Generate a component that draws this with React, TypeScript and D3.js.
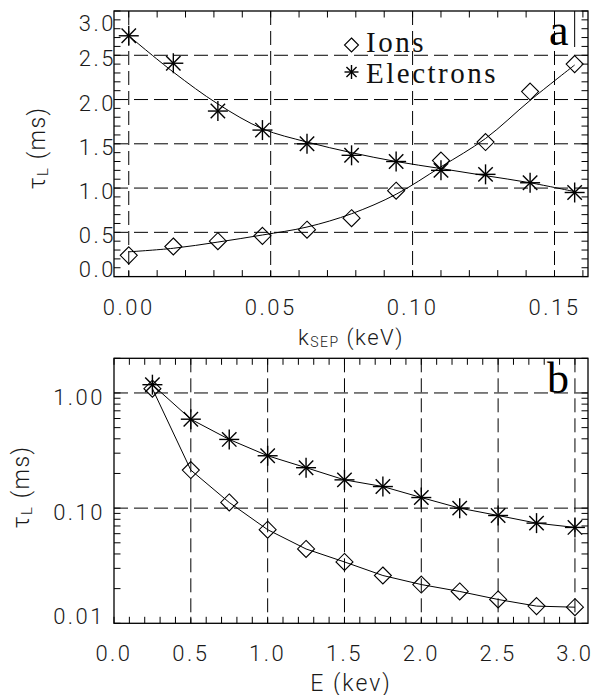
import React from "react";
import * as d3 from "d3";

// ---------- data ----------
const kSep = [0, 0.0157, 0.0314, 0.0471, 0.0628, 0.0785, 0.0942, 0.11, 0.1257, 0.1414, 0.1571];
const ionsA = [0.24, 0.34, 0.4, 0.46, 0.53, 0.66, 0.97, 1.31, 1.52, 2.09, 2.4];
const electronsA = [2.72, 2.41, 1.87, 1.655, 1.5, 1.37, 1.3, 1.2, 1.155, 1.06, 0.95];
const ionsFitA = [0.28, 0.32, 0.39, 0.47, 0.56, 0.71, 0.93, 1.24, 1.56, 1.99, 2.39];
const electronsFitA = [2.72, 2.31, 1.95, 1.67, 1.52, 1.4, 1.3, 1.22, 1.14, 1.06, 0.96];

const energy = [0.25, 0.5, 0.75, 1.0, 1.25, 1.5, 1.75, 2.0, 2.25, 2.5, 2.75, 3.0];
const ionsB = [1.09, 0.214, 0.112, 0.065, 0.0442, 0.0341, 0.026, 0.0217, 0.0189, 0.0161, 0.0141, 0.0138];
const electronsB = [1.18, 0.592, 0.395, 0.285, 0.2245, 0.176, 0.154, 0.1236, 0.1, 0.0863, 0.0741, 0.068];

const topXTicks = [0, 0.05, 0.1, 0.15];
const topXLabels = ["0.00", "0.05", "0.10", "0.15"];
const topYTicks = [0, 0.5, 1.0, 1.5, 2.0, 2.5, 3.0];
const topYLabels = ["0.0", "0.5", "1.0", "1.5", "2.0", "2.5", "3.0"];
const botXTicks = [0, 0.5, 1.0, 1.5, 2.0, 2.5, 3.0];
const botXLabels = ["0.0", "0.5", "1.0", "1.5", "2.0", "2.5", "3.0"];
const botYTicks = [0.01, 0.1, 1];
const botYLabels = ["0.01", "0.10", "1.00"];
const legendLabels = ["Ions", "Electrons"];

// ---------- layout ----------
const L = 114, R = 588;
const A = { top: 11, bottom: 276.6 };
const B = { top: 358.3, bottom: 623.3 };
const TICK = 6.5;
const DASH = "14,6";
const tickFont = "Roboto, 'Liberation Sans', sans-serif";
const TW = 300;
const TC = "#1a1a1a";
const serif = "'Liberation Serif', 'DejaVu Serif', serif";

const xA = d3.scaleLinear().domain([-0.0052, 0.1618]).range([L, R]);
const yA = d3.scaleLinear().domain([0, 3]).range([A.bottom, A.top]);
const xB = d3.scaleLinear().domain([0, 3.085]).range([L, R]);
const yB = d3.scaleLog().domain([0.01, 2]).range([B.bottom, B.top]);

function Diamond({ x, y, r = 8.5 }: { x: number; y: number; r?: number }) {
  return (
    <path
      d={`M${x},${y - r}L${x + r},${y}L${x},${y + r}L${x - r},${y}Z`}
      fill="none"
      stroke="#000"
      strokeWidth={1.1}
    />
  );
}

function Asterisk({ x, y, r = 10 }: { x: number; y: number; r?: number }) {
  const d = r * 0.72;
  return (
    <g stroke="#000" strokeWidth={1.4}>
      <line x1={x - r} y1={y} x2={x + r} y2={y} />
      <line x1={x} y1={y - r} x2={x} y2={y + r} />
      <line x1={x - d} y1={y - d} x2={x + d} y2={y + d} />
      <line x1={x - d} y1={y + d} x2={x + d} y2={y - d} />
    </g>
  );
}

function TopPanel() {
  const minorX = d3.range(0, 0.1615, 0.01);
  const minorY = d3.range(0, 3.001, 0.1);
  const line = d3.line<number>().curve(d3.curveCatmullRom.alpha(0.5));
  const ionPath = line(kSep.map((k, i) => [xA(k), yA(ionsFitA[i])] as any) as any);
  const elPath = line(kSep.map((k, i) => [xA(k), yA(electronsFitA[i])] as any) as any);
  return (
    <g>
      {topXTicks.map((t) => (
        <line key={"gx" + t} x1={xA(t)} x2={xA(t)} y1={A.top} y2={A.bottom} stroke="#000" strokeDasharray={DASH} strokeWidth={1} />
      ))}
      {topYTicks.filter((t) => t > 0 && t < 3).map((t) => (
        <line key={"gy" + t} x1={L} x2={R} y1={yA(t)} y2={yA(t)} stroke="#000" strokeDasharray={DASH} strokeWidth={1} />
      ))}
      {minorX.map((t, i) => (
        <g key={"mx" + i} stroke="#000" strokeWidth={1}>
          <line x1={xA(t)} x2={xA(t)} y1={A.bottom} y2={A.bottom - TICK} />
          <line x1={xA(t)} x2={xA(t)} y1={A.top} y2={A.top + TICK} />
        </g>
      ))}
      {minorY.map((t, i) => (
        <g key={"my" + i} stroke="#000" strokeWidth={1}>
          <line x1={L} x2={L + TICK} y1={yA(t)} y2={yA(t)} />
          <line x1={R} x2={R - TICK} y1={yA(t)} y2={yA(t)} />
        </g>
      ))}
      <line x1={xA(kSep[kSep.length - 1])} x2={xA(kSep[kSep.length - 1])} y1={A.top} y2={A.top + 36} stroke="#000" strokeWidth={1} />
      <rect x={L} y={A.top} width={R - L} height={A.bottom - A.top} fill="none" stroke="#000" strokeWidth={1.3} />
      <path d={ionPath || ""} fill="none" stroke="#000" strokeWidth={1} />
      <path d={elPath || ""} fill="none" stroke="#000" strokeWidth={1} />
      {kSep.map((k, i) => (
        <Diamond key={"di" + i} x={xA(k)} y={yA(ionsA[i])} />
      ))}
      {kSep.map((k, i) => (
        <Asterisk key={"as" + i} x={xA(k)} y={yA(electronsA[i])} />
      ))}
      {topXTicks.map((t, i) => (
        <text key={"lx" + t} x={xA(t)} y={A.bottom + 38.5} textAnchor="middle" fontFamily={tickFont} fontWeight={TW} fontSize={22} letterSpacing={2.5} fill={TC}>
          {topXLabels[i]}
        </text>
      ))}
      {topYTicks.map((t, i) => {
        const c = Math.max(A.top + 11.5, Math.min(A.bottom - 7.5, yA(t) + 3));
        return (
          <text key={"ly" + t} x={116} y={c + 8} textAnchor="end" fontFamily={tickFont} fontWeight={TW} fontSize={22} letterSpacing={2.5} fill={TC}>
            {topYLabels[i]}
          </text>
        );
      })}
      <text x={(L + R) / 2} y={345} textAnchor="middle" fontFamily={tickFont} fontWeight={TW} fontSize={22} letterSpacing={1.5} fill={TC}>
        k<tspan fontSize={14} dy={2}>SEP</tspan>
        <tspan dy={-2}> (keV)</tspan>
      </text>
      <text transform={`translate(45,${(A.top + A.bottom) / 2 + 4}) rotate(-90)`} textAnchor="middle" fontFamily={tickFont} fontWeight={TW} fontSize={23} letterSpacing={1.5} fill={TC}>
        τ<tspan fontSize={15} dy={3}>L</tspan>
        <tspan dy={-3}> (ms)</tspan>
      </text>
      <Diamond x={351.5} y={45} r={7} />
      <text x={366} y={51.7} fontFamily={serif} fontSize={29} letterSpacing={2.5} fill="#111">{legendLabels[0]}</text>
      <Asterisk x={351.5} y={72} r={7} />
      <text x={366} y={82.7} fontFamily={serif} fontSize={29} letterSpacing={2.5} fill="#111">{legendLabels[1]}</text>
      <text x={549} y={45} fontFamily={serif} fontSize={44} fill="#000">a</text>
    </g>
  );
}

function BottomPanel() {
  const minorX = d3.range(0, 3.081, 0.1);
  const minorY: number[] = [];
  [0.01, 0.1, 1].forEach((dec) => {
    for (let m = 1; m <= 9; m++) {
      const v = dec * m;
      if (v <= 2.0001) minorY.push(v);
    }
  });
  const line = d3.line<number>();
  const ionPath = line(energy.map((e, i) => [xB(e), yB(ionsB[i])] as any) as any);
  const elPath = line(energy.map((e, i) => [xB(e), yB(electronsB[i])] as any) as any);
  return (
    <g>
      {botXTicks.filter((t) => t > 0).map((t) => (
        <line key={"gx" + t} x1={xB(t)} x2={xB(t)} y1={B.top} y2={B.bottom} stroke="#000" strokeDasharray={DASH} strokeWidth={1} />
      ))}
      {botYTicks.filter((t) => t > 0.01).map((t) => (
        <line key={"gy" + t} x1={L} x2={R} y1={yB(t)} y2={yB(t)} stroke="#000" strokeDasharray={DASH} strokeWidth={1} />
      ))}
      {minorX.map((t, i) => (
        <g key={"mx" + i} stroke="#000" strokeWidth={1}>
          <line x1={xB(t)} x2={xB(t)} y1={B.bottom} y2={B.bottom - TICK} />
          <line x1={xB(t)} x2={xB(t)} y1={B.top} y2={B.top + TICK} />
        </g>
      ))}
      {minorY.map((t, i) => (
        <g key={"my" + i} stroke="#000" strokeWidth={1}>
          <line x1={L} x2={L + TICK} y1={yB(t)} y2={yB(t)} />
          <line x1={R} x2={R - TICK} y1={yB(t)} y2={yB(t)} />
        </g>
      ))}
      <rect x={L} y={B.top} width={R - L} height={B.bottom - B.top} fill="none" stroke="#000" strokeWidth={1.3} />
      <path d={ionPath || ""} fill="none" stroke="#000" strokeWidth={1} />
      <path d={elPath || ""} fill="none" stroke="#000" strokeWidth={1} />
      {energy.map((e, i) => (
        <Diamond key={"di" + i} x={xB(e)} y={yB(ionsB[i])} />
      ))}
      {energy.map((e, i) => (
        <Asterisk key={"as" + i} x={xB(e)} y={yB(electronsB[i])} />
      ))}
      {botXTicks.map((t, i) => (
        <text key={"lx" + t} x={xB(t)} y={B.bottom + 37.5} textAnchor="middle" fontFamily={tickFont} fontWeight={TW} fontSize={22} letterSpacing={2.5} fill={TC}>
          {botXLabels[i]}
        </text>
      ))}
      {botYTicks.map((t, i) => {
        const c = Math.max(B.top + 11.5, Math.min(B.bottom - 7.6, yB(t) + 4));
        return (
          <text key={"ly" + t} x={105} y={c + 8} textAnchor="end" fontFamily={tickFont} fontWeight={TW} fontSize={22} letterSpacing={2.5} fill={TC}>
            {botYLabels[i]}
          </text>
        );
      })}
      <text x={(L + R) / 2} y={690.5} textAnchor="middle" fontFamily={tickFont} fontWeight={TW} fontSize={23} letterSpacing={2} fill={TC}>
        E (kev)
      </text>
      <text transform={`translate(29,${(B.top + B.bottom) / 2 - 4}) rotate(-90)`} textAnchor="middle" fontFamily={tickFont} fontWeight={TW} fontSize={23} letterSpacing={1.5} fill={TC}>
        τ<tspan fontSize={15} dy={3}>L</tspan>
        <tspan dy={-3}> (ms)</tspan>
      </text>
      <text x={547} y={392.7} fontFamily={serif} fontSize={44} fill="#000">b</text>
    </g>
  );
}

export default function App() {
  return (
    <svg width={595} height={695} style={{ position: "absolute", left: 0, top: 0, background: "#fff" }}>
      <rect x={0} y={0} width={595} height={695} fill="#fff" />
      <TopPanel />
      <BottomPanel />
    </svg>
  );
}
